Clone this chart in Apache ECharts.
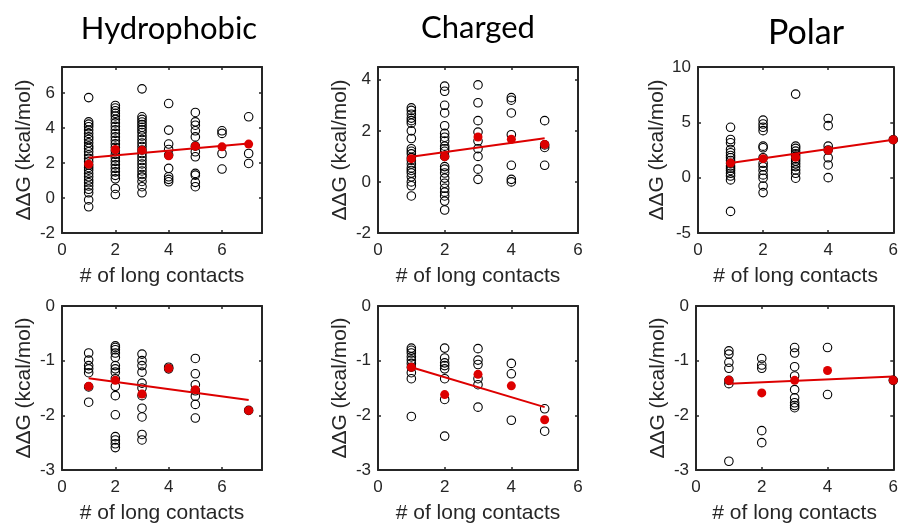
<!DOCTYPE html>
<html>
<head>
<meta charset="utf-8">
<script src="https://cdn.jsdelivr.net/npm/echarts@6/dist/echarts.min.js"></script>
<style>
  html, body { margin: 0; padding: 0; background: #fff; }
  #chart { width: 901px; height: 525px; }
</style>
</head>
<body>
<div id="chart"></div>
<script>
// ddG values per number of long contacts, one panel per block

// Hydrophobic, top row
var hydTopContacts = [1, 2, 3, 4, 5, 6, 7]
var hydTopDdg = [
    [5.75, 4.36, 4.23, 4.08, 3.89, 3.7, 3.5, 3.35, 3.16, 2.97, 2.84, 2.65, 2.46, 2.27, 2.08, 1.89, 1.75, 1.6, 1.41, 1.22, 1.03, 0.88, 0.69, 0.5, 0.3, -0.11, -0.5],
    [5.3, 5.15, 5.0, 4.85, 4.7, 4.5, 4.3, 4.1, 3.9, 3.7, 3.5, 3.3, 3.1, 2.9, 2.7, 2.5, 2.3, 2.1, 1.9, 1.7, 1.5, 1.3, 1.1, 0.55, 0.2],
    [6.25, 4.65, 4.5, 4.35, 4.2, 4.05, 3.9, 3.75, 3.55, 3.35, 3.15, 2.95, 2.75, 2.55, 2.35, 2.15, 1.95, 1.75, 1.55, 1.35, 1.2, 0.95, 0.65, 0.3],
    [5.41, 3.89, 3.09, 2.78, 2.46, 1.7, 1.22, 1.07, 0.93],
    [4.9, 4.36, 4.17, 3.85, 3.5, 2.97, 2.65, 2.36, 1.41, 1.31, 0.9, 0.65],
    [3.85, 3.7, 2.55, 1.66],
    [4.65, 2.55, 1.98]
]
var hydTopMean = [1.94, 2.78, 2.74, 2.42, 2.97, 2.93, 3.09]
var hydTopFit = [2.3, 3.12]

// Charged, top row
var chgTopContacts = [1, 2, 3, 4, 5]
var chgTopDdg = [
    [2.9, 2.8, 2.65, 2.5, 2.4, 2.3, 2.0, 1.7, 1.3, 1.2, 1.1, 0.95, 0.85, 0.7, 0.55, 0.45, 0.35, 0.2, 0.0, -0.15, -0.55],
    [3.75, 3.55, 3.0, 2.7, 2.2, 1.9, 1.75, 1.6, 1.4, 1.3, 1.2, 1.0, 0.6, 0.5, 0.35, 0.15, -0.05, -0.25, -0.4, -0.55, -0.75, -1.1],
    [3.8, 3.1, 2.4, 1.95, 1.6, 1.3, 1.0, 0.5, 0.1],
    [3.3, 3.2, 2.7, 1.85, 0.65, 0.1, 0.0],
    [2.4, 1.45, 1.35, 0.65]
]
var chgTopMean = [0.91, 0.99, 1.76, 1.67, 1.47]
var chgTopFit = [0.99, 1.71]

// Polar, top row
var polTopContacts = [1, 2, 3, 4, 6]
var polTopDdg = [
    [4.55, 3.45, 3.15, 2.55, 2.25, 2.0, 1.8, 1.55, 1.3, 1.05, 0.85, 0.65, 0.4, 0.15, -0.2, -3.05],
    [5.2, 4.85, 4.55, 4.25, 2.85, 2.7, 1.8, 1.3, 1.0, 0.65, 0.25, -0.05, -0.75, -1.35],
    [7.55, 2.85, 2.65, 2.4, 2.15, 1.95, 1.7, 1.5, 1.25, 1.0, 0.7, 0.4, -0.05],
    [5.35, 4.7, 2.85, 2.5, 1.8, 1.15, 0.0],
    [3.43]
]
var polTopMean = [1.32, 1.72, 1.84, 2.48, 3.43]
var polTopFit = [1.32, 3.43]

// Hydrophobic, bottom row
var hydBotContacts = [1, 2, 3, 4, 5, 7]
var hydBotDdg = [
    [-0.86, -0.99, -1.09, -1.15, -1.22, -1.48, -1.76],
    [-0.73, -0.76, -0.8, -0.86, -0.94, -1.09, -1.15, -1.21, -1.33, -1.47, -1.64, -1.99, -2.39, -2.45, -2.52, -2.59],
    [-0.88, -1.0, -1.09, -1.21, -1.41, -1.5, -1.64, -1.87, -2.03, -2.35, -2.45],
    [-1.12, -1.15],
    [-0.96, -1.24, -1.44, -1.55, -1.65, -1.8, -2.05],
    [-1.91]
]
var hydBotMean = [-1.47, -1.36, -1.61, -1.14, -1.53, -1.91]
var hydBotFit = [-1.32, -1.72]

// Charged, bottom row
var chgBotContacts = [1, 2, 3, 4, 5]
var chgBotDdg = [
    [-0.77, -0.81, -0.86, -0.93, -0.99, -1.05, -1.12, -1.22, -1.33, -2.02],
    [-0.77, -0.95, -1.04, -1.09, -1.15, -1.33, -1.71, -2.38],
    [-0.78, -0.99, -1.07, -1.33, -1.44, -1.85],
    [-1.05, -1.24, -2.09],
    [-1.88, -2.29]
]
var chgBotMean = [-1.12, -1.62, -1.25, -1.46, -2.08]
var chgBotFit = [-1.12, -1.85]

// Polar, bottom row
var polBotContacts = [1, 2, 3, 4, 6]
var polBotDdg = [
    [-0.82, -0.88, -1.03, -1.14, -1.36, -1.42, -2.84],
    [-0.96, -1.08, -1.14, -2.28, -2.5],
    [-0.76, -0.86, -1.11, -1.28, -1.53, -1.68, -1.77, -1.82, -1.86],
    [-0.76, -1.62],
    [-1.36]
]
var polBotMean = [-1.36, -1.59, -1.36, -1.18, -1.36]
var polBotFit = [-1.42, -1.29]

var titles = ['Hydrophobic', 'Charged', 'Polar']
var xName = '# of long contacts'
var yName = 'ΔΔG (kcal/mol)'

var axisColor = '#262626'
var red = '#DD0000'
var font = 'Liberation Sans'

var chart = echarts.init(document.getElementById('chart'))

var panels = [
    { box: [62, 67, 200, 166], xMax: 7.5, y: [-2, 7.5, 2], c: hydTopContacts, d: hydTopDdg, m: hydTopMean, f: hydTopFit },
    { box: [378, 67, 200, 166], xMax: 6, y: [-2, 4.5, 2], c: chgTopContacts, d: chgTopDdg, m: chgTopMean, f: chgTopFit },
    { box: [698, 67, 198, 166], xMax: 6, y: [-5, 10, 5], c: polTopContacts, d: polTopDdg, m: polTopMean, f: polTopFit },
    { box: [62, 306, 200, 166], xMax: 7.5, y: [-3, 0, 1], c: hydBotContacts, d: hydBotDdg, m: hydBotMean, f: hydBotFit },
    { box: [378, 306, 200, 166], xMax: 6, y: [-3, 0, 1], c: chgBotContacts, d: chgBotDdg, m: chgBotMean, f: chgBotFit },
    { box: [696, 306, 200, 166], xMax: 6, y: [-3, 0, 1], c: polBotContacts, d: polBotDdg, m: polBotMean, f: polBotFit }
]

var grid = [], xAxis = [], yAxis = [], series = []

function hideOdd(interval) {
    return function (v) {
        return Math.abs(v / interval - Math.round(v / interval)) < 1e-6 ? String(v) : ''
    }
}

panels.forEach(function (p, i) {
    grid.push({ left: p.box[0], top: p.box[1], width: p.box[2], height: p.box[3] })
    var lineStyle = { color: axisColor, width: 2 }
    var tick = { show: true, inside: true, length: 3, lineStyle: { color: axisColor, width: 1.5 } }
    // bottom + top x axes
    xAxis.push({
        gridIndex: i, type: 'value', position: 'bottom', min: 0, max: p.xMax, interval: 2,
        axisLine: { show: true, onZero: false, lineStyle: lineStyle },
        axisTick: tick,
        splitLine: { show: false },
        axisLabel: { color: axisColor, fontFamily: font, fontSize: 17, margin: 9, formatter: hideOdd(2) },
        name: xName, nameLocation: 'middle', nameGap: 33,
        nameTextStyle: { color: axisColor, fontFamily: font, fontSize: 21 }
    })
    xAxis.push({
        gridIndex: i, type: 'value', position: 'top', min: 0, max: p.xMax, interval: 2,
        axisLine: { show: true, onZero: false, lineStyle: lineStyle },
        axisTick: tick, axisLabel: { show: false }, splitLine: { show: false }
    })
    yAxis.push({
        gridIndex: i, type: 'value', position: 'left', min: p.y[0], max: p.y[1], interval: p.y[2],
        axisLine: { show: true, onZero: false, lineStyle: lineStyle },
        axisTick: tick,
        splitLine: { show: false },
        axisLabel: { color: axisColor, fontFamily: font, fontSize: 17, margin: 7, formatter: hideOdd(p.y[2]) },
        name: yName, nameLocation: 'middle', nameGap: 27,
        nameTextStyle: { color: axisColor, fontFamily: font, fontSize: 21 }
    })
    yAxis.push({
        gridIndex: i, type: 'value', position: 'right', min: p.y[0], max: p.y[1], interval: p.y[2],
        axisLine: { show: true, onZero: false, lineStyle: lineStyle },
        axisTick: tick, axisLabel: { show: false }, splitLine: { show: false }
    })

    var pts = []
    p.c.forEach(function (x, k) {
        p.d[k].forEach(function (v) { pts.push([x, v]) })
    })
    series.push({
        type: 'scatter', xAxisIndex: i * 2, yAxisIndex: i * 2,
        symbol: 'circle', symbolSize: 8.5, silent: true, z: 2,
        itemStyle: { color: 'rgba(0,0,0,0)', borderColor: '#000', borderWidth: 1.1, opacity: 1 },
        data: pts
    })
    series.push({
        type: 'line', xAxisIndex: i * 2, yAxisIndex: i * 2,
        showSymbol: false, silent: true, z: 3,
        lineStyle: { color: red, width: 2 },
        data: [[p.c[0], p.f[0]], [p.c[p.c.length - 1], p.f[1]]]
    })
    series.push({
        type: 'scatter', xAxisIndex: i * 2, yAxisIndex: i * 2,
        symbol: 'circle', symbolSize: 9, silent: true, z: 4,
        itemStyle: { color: red, opacity: 1 },
        data: p.c.map(function (x, k) { return [x, p.m[k]] })
    })
})

var option = {
    animation: false,
    backgroundColor: '#fff',
    grid: grid,
    xAxis: xAxis,
    yAxis: yAxis,
    series: series,
    graphic: [
        { type: 'text', x: 169, y: 29, style: { text: titles[0], font: '31px Lato', fill: '#000', textAlign: 'center', textVerticalAlign: 'middle' } },
        { type: 'text', x: 478, y: 28, style: { text: titles[1], font: '31px Lato', fill: '#000', textAlign: 'center', textVerticalAlign: 'middle' } },
        { type: 'text', x: 806, y: 33, style: { text: titles[2], font: '34px Lato', fill: '#000', textAlign: 'center', textVerticalAlign: 'middle' } }
    ]
}
chart.setOption(option)
</script>
</body>
</html>
